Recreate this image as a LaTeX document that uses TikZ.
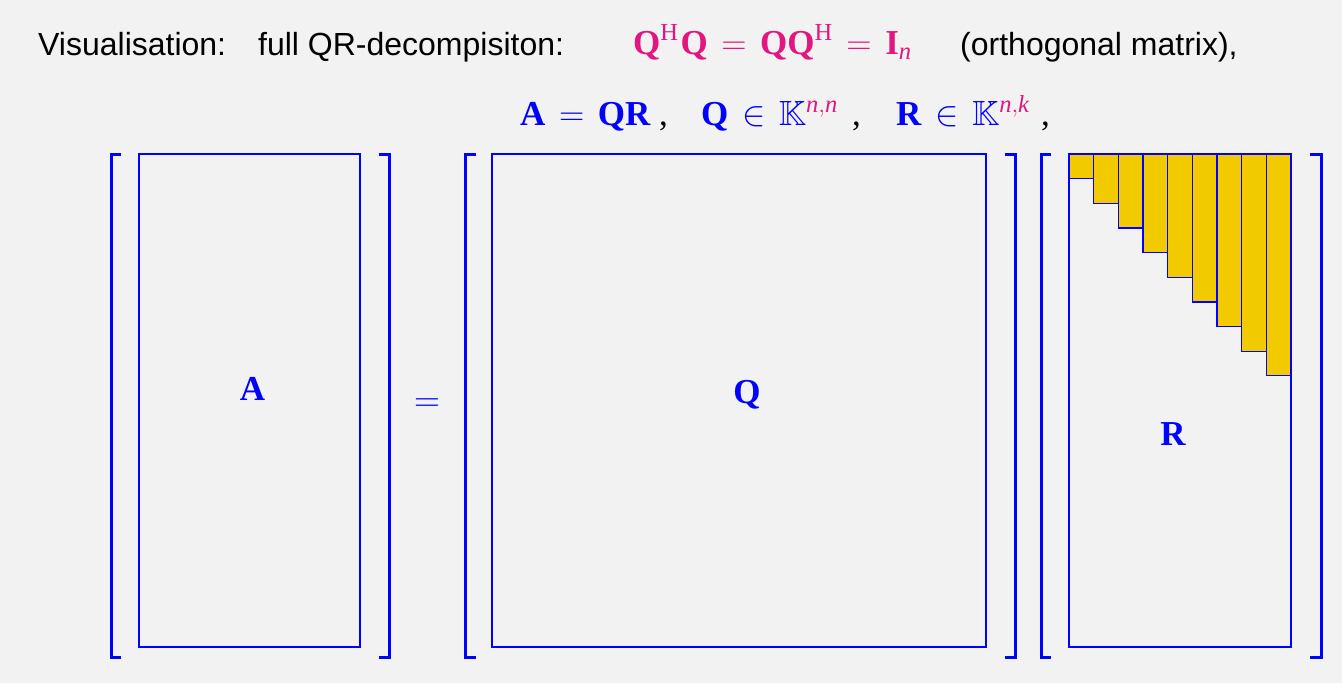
\documentclass[tikz,border=0pt]{standalone}
\usepackage{fix-cm}
\usepackage{amsmath,amssymb}
\DeclareFontFamily{U}{msb}{}
\DeclareFontShape{U}{msb}{m}{n}{<->msbm10}{}
\usepackage{fontspec}
\setmainfont{Liberation Sans}
\newfontfamily\tms{Liberation Serif}
\definecolor{bg}{HTML}{F2F2F2}
\definecolor{mblue}{HTML}{0000FF}
\definecolor{mpink}{HTML}{E2167E}
\definecolor{myellow}{HTML}{F2CA00}
\newcommand{\bQ}{\text{\tms\bfseries Q}}
\newcommand{\bA}{\text{\tms\bfseries A}}
\newcommand{\bR}{\text{\tms\bfseries R}}
\newcommand{\bI}{\text{\tms\bfseries I}}
\newcommand{\rmH}{\text{\tms H}}
\newcommand{\itn}{\text{\tms\itshape n}}
\newcommand{\itk}{\text{\tms\itshape k}}
\thickmuskip=7mu plus 2mu
\tikzset{
  txt/.style={anchor=base west, inner sep=0pt, font=\fontsize{32}{38}\selectfont},
  mtxt/.style={anchor=base west, inner sep=0pt, font=\fontsize{35}{42}\selectfont},
  cmm/.style={anchor=base west, inner sep=0pt, font=\fontsize{35}{42}\selectfont\tms},
  mbox/.style={draw=mblue, line width=2pt, inner sep=0pt},
  brk/.style={draw=mblue, line width=3pt},
  lab/.style={text=mblue, font=\fontsize{35}{42}\selectfont\tms\bfseries, inner sep=0pt},
  col/.style={draw=mblue, line width=1.2pt, fill=myellow}
}
\begin{document}
\begin{tikzpicture}[x=1pt,y=-1pt]
\useasboundingbox (0,0) rectangle (1342,683);
\fill[bg] (0,0) rectangle (1342,683);
% heading
\node[txt] (t1) at (38,55) {Visualisation:};
\node[txt] (t2) at (258,55) {full QR-decompisiton:};
\node[mtxt, text=mpink] (t3) at (633,54) {$\bQ^{\rmH}\mkern1mu\bQ=\bQ\bQ^{\rmH}=\bI_{\itn}$};
\node[txt] (t4) at (960,55) {(orthogonal matrix),};
\node[mtxt] (s1) at (520,125) {$\color{mblue}\bA=\bQ\bR$};
\node[cmm] (c1) at (659,125) {,};
\node[mtxt] (s2) at (701,125) {$\color{mblue}\bQ\in\mathbb{K}^{\color{mpink}\itn,\itn}$};
\node[cmm] (c2) at (852,125) {,};
\node[mtxt] (s3) at (896,125) {$\color{mblue}\bR\in\mathbb{K}^{\color{mpink}\itn,\itk}$};
\node[cmm] (c3) at (1041,125) {,};
% matrices
\node[mbox, minimum width=221pt, minimum height=493pt] (A) at (249.5,400.5) {};
\node[mbox, minimum width=494pt, minimum height=493pt] (Q) at (739,400.5) {};
\node[mbox, line width=1.6pt, minimum width=222pt, minimum height=493pt] (R) at (1180,400.5) {};
% staircase of R
\foreach \i in {0,...,8}{
  \pgfmathsetmacro{\xa}{1069+\i*24.67}
  \pgfmathsetmacro{\xb}{1069+(\i+1)*24.67}
  \pgfmathsetmacro{\yb}{154+(\i+1)*24.65}
  \draw[col] (\xa,154) rectangle (\xb,\yb);
}
% labels
\node[lab] (la) at (252.5,389) {A};
\node[lab] (lq) at (747,395) {Q};
\node[lab] (lr) at (1173,434) {R};
\node[text=mblue, font=\fontsize{36}{42}\selectfont, inner sep=0pt] (eq) at (427,405.5) {$=$};
% brackets
\draw[brk] (121,154) -| (111,657) -- (121,657);
\draw[brk] (379,154) -| (389,657) -- (379,657);
\draw[brk] (476,154) -| (465,657) -- (476,657);
\draw[brk] (1005,154) -| (1015,657) -- (1005,657);
\draw[brk] (1051,154) -| (1041,657) -- (1051,657);
\draw[brk] (1310,154) -| (1321,657) -- (1310,657);
\end{tikzpicture}
\end{document}
